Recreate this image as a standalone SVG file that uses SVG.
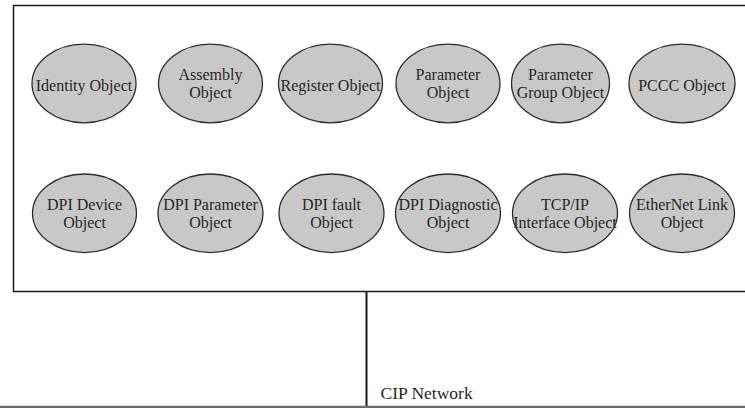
<svg xmlns="http://www.w3.org/2000/svg" width="745" height="408" viewBox="0 0 745 408">
  <style>
    .frame { fill: #ffffff; stroke: #1a1a1a; stroke-width: 1.5; }
    .obj ellipse { fill: #c8c8c8; stroke: #2b2b2b; stroke-width: 1.3; }
    .obj text, .label { font-family: "Liberation Serif", "Times New Roman", serif; font-size: 16px; fill: #262626; text-anchor: middle; }
    .label { font-size: 17.5px; text-anchor: start; }
    .link { stroke: #1a1a1a; stroke-width: 2; fill: none; }
    .bus { stroke: #6e6e6e; stroke-width: 2.2; fill: none; }
  </style>

  <rect fill="#ffffff" width="745" height="408"/>

  <!-- device boundary -->
  <g id="device">
    <rect class="frame" x="13.5" y="5.5" width="740" height="286"/>
  </g>

  <!-- object row 1 -->
  <g id="identity-object" class="obj">
    <ellipse cx="84" cy="83.5" rx="52" ry="39.3"/>
    <text x="84" y="90.7">Identity Object</text>
  </g>
  <g id="assembly-object" class="obj">
    <ellipse cx="210.5" cy="83.5" rx="52" ry="39.3"/>
    <text x="210.5" y="80">Assembly</text>
    <text x="210.5" y="98">Object</text>
  </g>
  <g id="register-object" class="obj">
    <ellipse cx="330.5" cy="83.5" rx="52" ry="39.3"/>
    <text x="330.5" y="90.7">Register Object</text>
  </g>
  <g id="parameter-object" class="obj">
    <ellipse cx="448" cy="83.5" rx="52" ry="39.3"/>
    <text x="448" y="80">Parameter</text>
    <text x="448" y="98">Object</text>
  </g>
  <g id="parameter-group-object" class="obj">
    <ellipse cx="560.5" cy="83.5" rx="49" ry="39.3"/>
    <text x="560.5" y="80">Parameter</text>
    <text x="560.5" y="98">Group Object</text>
  </g>
  <g id="pccc-object" class="obj">
    <ellipse cx="682" cy="83.5" rx="53" ry="39.3"/>
    <text x="682" y="90.7">PCCC Object</text>
  </g>

  <!-- object row 2 -->
  <g id="dpi-device-object" class="obj">
    <ellipse cx="84.5" cy="213.3" rx="52" ry="39.3"/>
    <text x="84.5" y="210">DPI Device</text>
    <text x="84.5" y="228.3">Object</text>
  </g>
  <g id="dpi-parameter-object" class="obj">
    <ellipse cx="210.5" cy="213.3" rx="52.5" ry="39.3"/>
    <text x="210.5" y="210">DPI Parameter</text>
    <text x="210.5" y="228.3">Object</text>
  </g>
  <g id="dpi-fault-object" class="obj">
    <ellipse cx="331.5" cy="213.3" rx="52.5" ry="39.3"/>
    <text x="331.5" y="210">DPI fault</text>
    <text x="331.5" y="228.3">Object</text>
  </g>
  <g id="dpi-diagnostic-object" class="obj">
    <ellipse cx="448" cy="213.3" rx="52.5" ry="39.3"/>
    <text x="448" y="210">DPI Diagnostic</text>
    <text x="448" y="228.3">Object</text>
  </g>
  <g id="tcpip-interface-object" class="obj">
    <ellipse cx="565" cy="213.3" rx="52.5" ry="39.3"/>
    <text x="565" y="210">TCP/IP</text>
    <text x="565" y="228.3">Interface Object</text>
  </g>
  <g id="ethernet-link-object" class="obj">
    <ellipse cx="682" cy="213.3" rx="52.5" ry="39.3"/>
    <text x="682" y="210">EtherNet Link</text>
    <text x="682" y="228.3">Object</text>
  </g>

  <!-- network attachment -->
  <g id="connectors">
    <line class="link" x1="366.5" y1="291.5" x2="366.5" y2="408"/>
    <line class="bus" x1="0" y1="406.8" x2="745" y2="406.8"/>
  </g>
  <text class="label" x="380.5" y="399.3">CIP Network</text>
</svg>
